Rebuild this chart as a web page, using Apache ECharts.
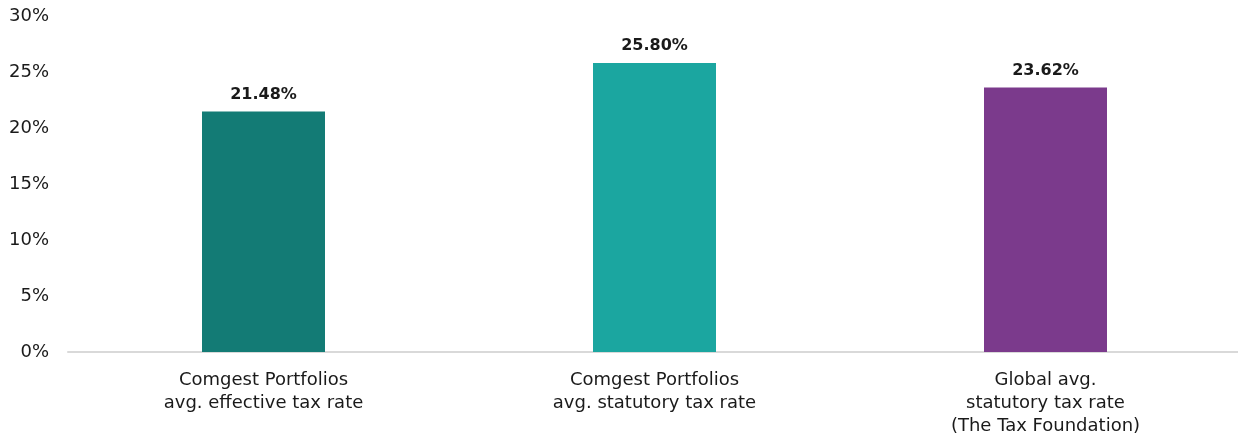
<!DOCTYPE html>
<html><head><meta charset="utf-8">
<script src="https://cdn.jsdelivr.net/npm/echarts@6/dist/echarts.min.js"></script>
<style>html,body{margin:0;padding:0;background:#fff;overflow:hidden}#c{width:1241px;height:438px}</style>
</head><body><div id="c"></div>
<script>
const categories = ["Comgest Portfolios\navg. effective tax rate", "Comgest Portfolios\navg. statutory tax rate", "Global avg.\nstatutory tax rate\n(The Tax Foundation)"];
const values = [21.48, 25.80, 23.62];
const colors = ["#137B75", "#1BA6A0", "#7B3A8C"];
const yTicks = [0, 5, 10, 15, 20, 25, 30];

const FONT = 'DejaVu Sans';
const chart = echarts.init(document.getElementById('c'));
chart.setOption({
  animation: false,
  grid: {left: 68, right: 0, top: 16, bottom: 86},
  xAxis: {
    type: 'category', data: categories,
    axisLine: {lineStyle: {color: '#d9d9d9', width: 2}},
    axisTick: {show: false},
    axisLabel: {fontFamily: FONT, fontSize: 18, color: '#1a1a1a', lineHeight: 23, margin: 17, interval: 0}
  },
  yAxis: {
    type: 'value', min: yTicks[0], max: yTicks[yTicks.length-1], interval: 5,
    splitLine: {show: false}, axisLine: {show: false}, axisTick: {show: false},
    axisLabel: {formatter: '{value}%', fontFamily: FONT, fontSize: 18, color: '#1a1a1a', margin: 19}
  },
  series: [{
    type: 'bar', barWidth: 123,
    data: values.map((v, i) => ({value: v, itemStyle: {color: colors[i]}})),
    label: {show: true, position: 'top', distance: 9, fontFamily: FONT, fontWeight: 'bold', fontSize: 16, color: '#1a1a1a', formatter: p => p.value.toFixed(2) + '%'}
  }]
});
</script></body></html>
